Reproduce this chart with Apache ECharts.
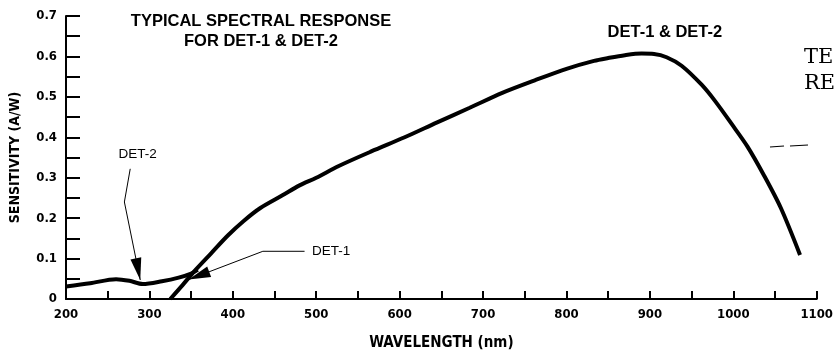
<!DOCTYPE html>
<html>
<head>
<meta charset="utf-8">
<title>Typical spectral response</title>
<script src="https://cdn.jsdelivr.net/npm/echarts@6/dist/echarts.min.js"></script>
<style>
html, body { margin: 0; padding: 0; background: #fff; }
#chart { width: 836px; height: 356px; }
</style>
</head>
<body>
<div id="chart"></div>
<script>
// DET-1 curve (DET-2 merges into it above ~355 nm)
const det1Wavelength = [325, 340, 354, 374, 394, 413, 433, 460, 480, 500, 527, 566, 606, 645, 684, 723, 762, 801, 833, 850, 870, 890, 905, 920, 938, 962, 978, 998, 1017, 1037, 1057, 1080];
const det1Sensitivity = [0, 0.035, 0.069, 0.113, 0.157, 0.193, 0.225, 0.257, 0.281, 0.3, 0.329, 0.365, 0.4, 0.437, 0.473, 0.51, 0.541, 0.57, 0.589, 0.596, 0.603, 0.607, 0.606, 0.598, 0.577, 0.53, 0.49, 0.433, 0.377, 0.305, 0.225, 0.109];

// DET-2 UV tail
const det2Wavelength = [200, 229, 260, 276, 292, 315, 335, 350, 358];
const det2Sensitivity = [0.031, 0.039, 0.049, 0.045, 0.037, 0.044, 0.053, 0.063, 0.072];

const xMin = 200, xMax = 1100, xStep = 100;
const yMin = 0, yMax = 0.7, yStep = 0.1;

// annotation leaders in data units [wavelength, sensitivity]
const det2Leader = [[277, 0.322], [270, 0.24], [289, 0.047]];
const det1Leader = [[486, 0.118], [436, 0.118], [347, 0.048]];

const NARROW = '"Liberation Sans Narrow", "DejaVu Sans Condensed", "Liberation Sans", sans-serif';
const SANS = '"Liberation Sans", Arial, sans-serif';
const TYPEWRITER = '"DejaVu Serif", "Liberation Serif", serif';

const chart = echarts.init(document.getElementById('chart'), null, { renderer: 'canvas' });

const toPairs = (xs, ys) => xs.map((x, i) => [x, ys[i]]);

chart.setOption({
  animation: false,
  backgroundColor: '#fff',
  grid: { left: 62, right: 10, top: 16, bottom: 49 },
  xAxis: {
    type: 'value',
    min: xMin,
    max: xMax,
    interval: xStep,
    name: 'WAVELENGTH (nm)',
    nameLocation: 'middle',
    nameGap: 37,
    nameTextStyle: { color: '#000', fontFamily: NARROW, fontWeight: 'bold', fontSize: 15 },
    axisLine: { lineStyle: { color: '#000', width: 2 } },
    axisTick: { inside: true, length: 8, lineStyle: { color: '#000', width: 2 } },
    minorTick: { show: true, splitNumber: 2, length: 8, lineStyle: { color: '#000', width: 2 } },
    axisLabel: {
      color: '#000', fontFamily: NARROW, fontWeight: 'bold', fontSize: 13, margin: 9,
      formatter: (v) => String(v)
    },
    splitLine: { show: false }
  },
  yAxis: {
    type: 'value',
    min: yMin,
    max: yMax,
    interval: yStep,
    name: 'SENSITIVITY (A/W)',
    nameLocation: 'middle',
    nameGap: 44,
    nameRotate: 90,
    nameTextStyle: { color: '#000', fontFamily: NARROW, fontWeight: 'bold', fontSize: 14 },
    axisLine: { show: true, lineStyle: { color: '#000', width: 2 } },
    axisTick: { show: true, inside: true, length: 14, lineStyle: { color: '#000', width: 2 } },
    minorTick: { show: true, splitNumber: 2, length: 14, lineStyle: { color: '#000', width: 2 } },
    axisLabel: { color: '#000', fontFamily: NARROW, fontWeight: 'bold', fontSize: 13, margin: 9 },
    splitLine: { show: false }
  },
  series: [
    {
      name: 'DET-1 & DET-2',
      type: 'line',
      data: toPairs(det1Wavelength, det1Sensitivity),
      smooth: 0.3,
      showSymbol: false,
      lineStyle: { color: '#000', width: 4 }
    },
    {
      name: 'DET-2',
      type: 'line',
      data: toPairs(det2Wavelength, det2Sensitivity),
      smooth: 0.3,
      showSymbol: false,
      lineStyle: { color: '#000', width: 4 }
    }
  ]
});

// annotations drawn after layout so data units can be turned into pixels
const px = (p) => chart.convertToPixel({ gridIndex: 0 }, p);

function arrowHead(tip, from, len, half) {
  const dx = tip[0] - from[0], dy = tip[1] - from[1];
  const d = Math.hypot(dx, dy);
  const ux = dx / d, uy = dy / d;
  const bx = tip[0] - ux * len, by = tip[1] - uy * len;
  return [tip, [bx - uy * half, by + ux * half], [bx + uy * half, by - ux * half]];
}

function leader(points) {
  const pts = points.map(px);
  const n = pts.length;
  return [
    { type: 'polyline', shape: { points: pts }, style: { stroke: '#000', lineWidth: 1, fill: null } },
    { type: 'polygon', shape: { points: arrowHead(pts[n - 1], pts[n - 2], 22, 5.5) }, style: { fill: '#000' } }
  ];
}

function label(text, pos, family, size, weight, align) {
  return {
    type: 'text',
    x: pos[0],
    y: pos[1],
    style: {
      text: text, fontFamily: family, fontSize: size, fontWeight: weight, fill: '#000',
      align: align, textAlign: align,
      verticalAlign: 'middle', textVerticalAlign: 'middle'
    }
  };
}

chart.setOption({
  graphic: [
    label('TYPICAL SPECTRAL RESPONSE', [261, 21], SANS, 16.5, 'bold', 'center'),
    label('FOR DET-1 & DET-2', [261, 41], SANS, 16.5, 'bold', 'center'),
    label('DET-1 & DET-2', px([918, 0.66]), SANS, 16.5, 'bold', 'center'),
    label('DET-2', px([286, 0.358]), SANS, 13.5, 'normal', 'center'),
    label('DET-1', px([495, 0.118]), SANS, 13.5, 'normal', 'left'),
    ...leader(det2Leader),
    ...leader(det1Leader),
    // fragments of neighbouring text at the right edge of the scan
    label('TE', [804, 58], TYPEWRITER, 21, 'normal', 'left'),
    label('RE', [804, 84], TYPEWRITER, 21, 'normal', 'left'),
    { type: 'polyline', shape: { points: [[770, 147], [784, 146]] }, style: { stroke: '#000', lineWidth: 1.2 } },
    { type: 'polyline', shape: { points: [[790, 146], [808, 145]] }, style: { stroke: '#000', lineWidth: 1.2 } }
  ]
});

window.addEventListener('resize', () => chart.resize());
</script>
</body>
</html>
